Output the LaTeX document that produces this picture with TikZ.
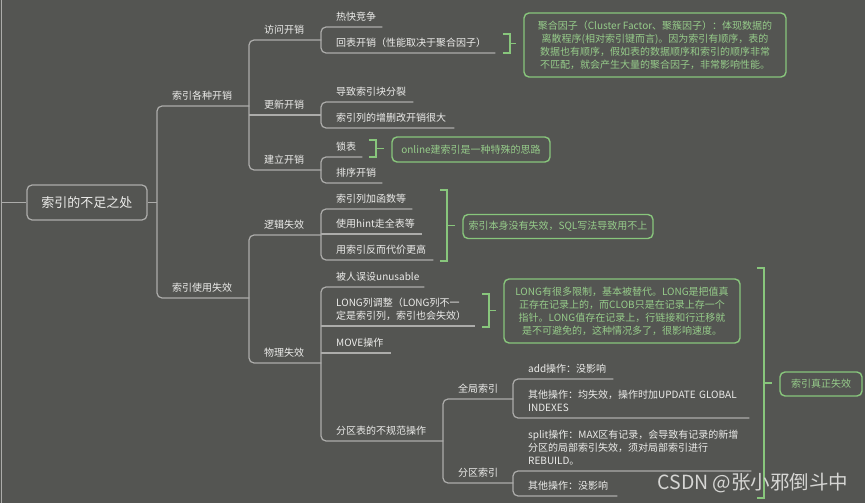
\documentclass[tikz,border=0pt]{standalone}
\usepackage{fontspec}
\setmainfont{Noto Sans CJK SC}
\usetikzlibrary{calc}
\definecolor{MapBg}{RGB}{84,85,82}
\definecolor{MapLine}{RGB}{172,172,170}
\definecolor{MapText}{RGB}{236,236,234}
\definecolor{MapGreen}{RGB}{136,198,124}
\definecolor{MapGreenText}{RGB}{150,204,138}
\definecolor{MapMark}{RGB}{214,214,212}
\tikzset{
  mm/root/.style={
    draw=MapLine,
    line width=1.2pt,
    rounded corners=5pt,
    minimum width=120pt,
    minimum height=35pt,
    text=MapText,
    font=\fontsize{13}{16}\selectfont
  },
  mm/topic/.style={
    anchor=south west,
    inner xsep=0pt,
    inner ysep=2.4pt,
    align=left,
    text=MapText,
    font=\fontsize{10}{13}\selectfont,
    execute at begin node={\leftskip=15pt\relax},
    execute at end node={\strut}
  },
  mm/branch/.style={draw=MapLine, line width=1.2pt, rounded corners=5pt},
  mm/note/.style={
    draw=MapGreen,
    line width=1.4pt,
    rounded corners=5pt,
    align=center,
    text=MapGreenText,
    inner sep=2pt,
    font=\fontsize{10}{13}\selectfont
  },
  mm/brace/.style={draw=MapGreen, line width=1.4pt},
  mm/mark/.style={text=MapMark, font=\fontsize{19.5}{22}\selectfont}
}
\begin{document}
\begin{tikzpicture}[x=1pt,y=-1pt]
  \useasboundingbox (0,0) rectangle (865,503);
  \fill[MapBg] (0,0) rectangle (865,503);

  % root
  \node[mm/root] (root) at (87,202.5) {索引的不足之处};
  \coordinate (edgetop) at (1.5,0);
  \coordinate (edgebot) at (1.5,503);
  \draw[mm/branch] (edgetop) -- (edgebot);
  \draw[mm/branch] (root.west) -- (root.west -| edgetop);

  % first level
  \node[mm/topic,text width=92pt] (cost) at (157,106) {索引各种开销};
  \node[mm/topic,text width=92pt] (fail) at (157,298) {索引使用失效};

  % second level
  \node[mm/topic,text width=72pt] (visit) at (249,40) {访问开销};
  \node[mm/topic,text width=72pt] (update) at (249,115) {更新开销};
  \node[mm/topic,text width=72pt] (build) at (249,170) {建立开销};
  \node[mm/topic,text width=72pt] (logic) at (249,235) {逻辑失效};
  \node[mm/topic,text width=72pt] (phys) at (249,363) {物理失效};

  % third level
  \node[mm/topic,text width=61pt] (hot) at (321,27) {热快竞争};
  \node[mm/topic,text width=174pt] (back) at (321,53) {回表开销（性能取决于聚合因子）};
  \node[mm/topic,text width=92pt] (split) at (321,102) {导致索引块分裂};
  \node[mm/topic,text width=133pt] (dml) at (321,128) {索引列的增删改开销很大};
  \node[mm/topic,text width=41pt] (lock) at (321,157) {锁表};
  \node[mm/topic,text width=61pt] (sort) at (321,183) {排序开销};
  \node[mm/topic,text width=91pt] (func) at (321,209) {索引列加函数等};
  \node[mm/topic,text width=101pt] (hint) at (321,234) {使用hint走全表等};
  \node[mm/topic,text width=112pt] (dear) at (321,260) {用索引反而代价更高};
  \node[mm/topic,text width=103pt] (unus) at (321,287) {被人误设unusable};
  \node[mm/topic,text width=154pt] (long) at (321,326) {LONG列调整（LONG列不一\\定是索引列，索引也会失效）};
  \node[mm/topic,text width=70pt] (move) at (321,353) {MOVE操作};
  \node[mm/topic,text width=122pt] (part) at (321,441) {分区表的不规范操作};

  % partition indexes
  \node[mm/topic,text width=70pt] (glob) at (443,399) {全局索引};
  \node[mm/topic,text width=70pt] (local) at (443,483) {分区索引};
  \node[mm/topic,text width=100pt] (add) at (513,379) {add操作：没影响};
  \node[mm/topic,text width=236pt] (other) at (513,418) {其他操作：均失效，操作时加UPDATE~GLOBAL\\INDEXES};
  \node[mm/topic,text width=238pt] (splitop) at (513,471) {split操作：MAX区有记录，会导致有记录的新增\\分区的局部索引失效，须对局部索引进行\\REBUILD。};
  \node[mm/topic,text width=104pt] (rest) at (513,496) {其他操作：没影响};

  % branches
  \draw[mm/branch] (root.east) -- (root.east -| cost.south west);
  \draw[mm/branch] (cost.south east) -- (cost.south west) -- (fail.south west) -- (fail.south east);
  \draw[mm/branch] (visit.south east) -- (visit.south west) -- (build.south west) -- (build.south east);
  \draw[mm/branch] (update.south west) -- (update.south east);
  \draw[mm/branch] (logic.south east) -- (logic.south west) -- (phys.south west) -- (phys.south east);
  \draw[mm/branch] (hot.south east) -- (hot.south west) -- (back.south west) -- (back.south east);
  \draw[mm/branch] (split.south east) -- (split.south west) -- (dml.south west) -- (dml.south east);
  \draw[mm/branch] (lock.south east) -- (lock.south west) -- (sort.south west) -- (sort.south east);
  \draw[mm/branch] (func.south east) -- (func.south west) -- (dear.south west) -- (dear.south east);
  \draw[mm/branch] (hint.south west) -- (hint.south east);
  \draw[mm/branch] (unus.south east) -- (unus.south west) -- (part.south west) -- (part.south east);
  \draw[mm/branch] (long.south west) -- (long.south east);
  \draw[mm/branch] (move.south west) -- (move.south east);
  \draw[mm/branch] (glob.south east) -- (glob.south west) -- (local.south west) -- (local.south east);
  \draw[mm/branch] (add.south east) -- (add.south west) -- (other.south west) -- (other.south east);
  \draw[mm/branch] (splitop.south east) -- (splitop.south west) -- (rest.south west) -- (rest.south east);

  % notes
  \node[mm/note,minimum width=262pt,minimum height=64pt] (cfnote) at (655,45)
    {聚合因子（Cluster Factor、聚簇因子）：体现数据的\\离散程序(相对索引键而言)。因为索引有顺序，表的\\数据也有顺序，假如表的数据顺序和索引的顺序非常\\不匹配，就会产生大量的聚合因子，非常影响性能。};
  \node[mm/note,minimum width=158pt,minimum height=25pt] (onnote) at (471,149.5) {online建索引是一种特殊的思路};
  \node[mm/note,minimum width=190pt,minimum height=24pt] (sqlnote) at (558,226.5) {索引本身没有失效，SQL写法导致用不上};
  \node[mm/note,minimum width=236pt,minimum height=64pt] (longnote) at (622,311)
    {LONG有很多限制，基本被替代。LONG是把值真\\正存在记录上的，而CLOB只是在记录上存一个\\指针。LONG值存在记录上，行链接和行迁移就\\是不可避免的，这种情况多了，很影响速度。};
  \node[mm/note,minimum width=82pt,minimum height=24pt] (realnote) at (821,384) {索引真正失效};

  % note braces
  \coordinate (cfTop) at (503,34);
  \coordinate (cfBot) at (503,53);
  \coordinate (cfMid) at (510,43.5);
  \draw[mm/brace] (cfTop) -- ++(7,0) |- (cfBot);
  \draw[mm/brace,shorten >=7pt] (cfMid) -- (cfMid -| cfnote.west);

  \coordinate (onTop) at (369,140);
  \coordinate (onBot) at (369,157);
  \coordinate (onMid) at (376,148.5);
  \draw[mm/brace] (onTop) -- ++(7,0) |- (onBot);
  \draw[mm/brace,shorten >=7pt] (onMid) -- (onMid -| onnote.west);

  \coordinate (sqlTop) at (440,190);
  \coordinate (sqlBot) at (440,261);
  \coordinate (sqlMid) at (447,225.5);
  \draw[mm/brace] (sqlTop) -- ++(7,0) |- (sqlBot);
  \draw[mm/brace,shorten >=7pt] (sqlMid) -- (sqlMid -| sqlnote.west);

  \coordinate (longTop) at (482,294);
  \coordinate (longBot) at (482,327);
  \coordinate (longMid) at (489,310.5);
  \draw[mm/brace] (longTop) -- ++(7,0) |- (longBot);
  \draw[mm/brace,shorten >=7pt] (longMid) -- (longMid -| longnote.west);

  \coordinate (realTop) at (757,268);
  \coordinate (realBot) at (757,498);
  \coordinate (realMid) at (764,383);
  \draw[mm/brace] (realTop) -- ++(7,0) |- (realBot);
  \draw[mm/brace,shorten >=7pt] (realMid) -- (realMid -| realnote.west);

  % watermark
  \node[mm/mark] (mark) at (753,483) {CSDN @张小邪倒斗中};
\end{tikzpicture}
\end{document}
